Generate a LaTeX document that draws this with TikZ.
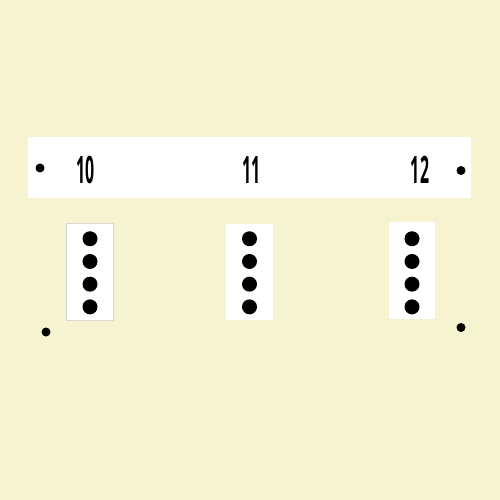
\documentclass[tikz,border=0pt]{standalone}
\usepackage{fontspec}
\usepackage{graphicx}
\usepackage{xcolor}
\usepackage{tikz}
\usetikzlibrary{positioning,backgrounds}
\newfontfamily\numfont{Open Sans}
\definecolor{bgcream}{HTML}{F6F3D0}
\tikzset{pin/.style={circle, fill=black, inner sep=0pt, minimum size=1.8mm}}
\tikzset{bigdot/.style={circle, fill=black, inner sep=0pt, minimum size=3mm}}
\tikzset{slot/.style={rectangle, fill=white, inner sep=0pt, minimum width=9.3mm, minimum height=19.3mm}}
\tikzset{numlabel/.style={inner sep=0pt, font=\numfont\bfseries\fontsize{21.5}{24}\selectfont}}

\begin{document}
\begin{tikzpicture}
    \fill[bgcream] (0,0) rectangle (10,-10);
    \useasboundingbox (0,0) rectangle (10,-10);

    \node[rectangle, fill=white, inner sep=0pt, minimum width=8.86cm, minimum height=1.22cm] (bar) at (4.99,-3.35) {};

    \node[pin] (p1) at (0.8,-3.36) {};
    \node[pin] (p2) at (9.22,-3.41) {};
    \node[pin] (p3) at (0.92,-6.64) {};
    \node[pin] (p4) at (9.22,-6.55) {};

    \node[numlabel] (n10) at (1.71,-3.4) {\scalebox{0.42}[1]{10}};
    \node[numlabel] (n11) at (5.03,-3.4) {\scalebox{0.42}[1]{11}};
    \node[numlabel] (n12) at (8.4,-3.4) {\scalebox{0.42}[1]{12}};

    \node[slot, draw=gray!30] (s1) at (1.8,-5.44) {};
    \node[slot] (s2) at (4.99,-5.44) {};
    \node[slot] (s3) at (8.24,-5.41) {};

	\node[bigdot, below=0.15cm of s1.north] (s1a) {};
	\node[bigdot, below=0.14cm of s1a] (s1b) {};
	\node[bigdot, below=0.14cm of s1b] (s1c) {};
	\node[bigdot, below=0.14cm of s1c] (s1d) {};

	\node[bigdot, below=0.15cm of s2.north] (s2a) {};
	\node[bigdot, below=0.14cm of s2a] (s2b) {};
	\node[bigdot, below=0.14cm of s2b] (s2c) {};
	\node[bigdot, below=0.14cm of s2c] (s2d) {};

	\node[bigdot, below=0.18cm of s3.north] (s3a) {};
	\node[bigdot, below=0.14cm of s3a] (s3b) {};
	\node[bigdot, below=0.14cm of s3b] (s3c) {};
	\node[bigdot, below=0.14cm of s3c] (s3d) {};
\end{tikzpicture}
\end{document}
